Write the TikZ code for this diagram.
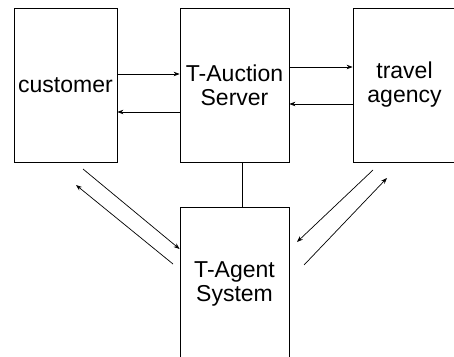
\documentclass[tikz,border=0pt]{standalone}
\usepackage{fontspec}
\setmainfont{Liberation Sans}
\usetikzlibrary{arrows.meta}
\begin{document}
\begin{tikzpicture}[x=1pt,y=-1pt,
  box/.style={draw, line width=0.8pt, minimum width=103pt, minimum height=154pt, inner sep=0pt, align=center, font=\fontsize{23}{24}\selectfont},
  conn/.style={line width=0.7pt, -{Stealth[length=6pt,width=4.5pt]}},
  link/.style={line width=0.7pt}]
\useasboundingbox (0,0) rectangle (454,356);
\clip (0,0) rectangle (454,356);
\node[box] (cust) at (65.5,85) {\raisebox{-2pt}{customer}};
\node[box, minimum width=109pt] (srv) at (234.5,85) {T-Auction\\Server};
\node[box] (trav) at (404.5,85) {travel\\agency};
\node[box, minimum width=109pt] (agent) at (234.5,284) {T-Agent\\System};
\draw[conn] (cust.east |- 0,74) -- (srv.west |- 0,74);
\draw[conn] (srv.west |- 0,112) -- (cust.east |- 0,112);
\draw[conn] (srv.east |- 0,67) -- (trav.west |- 0,67);
\draw[conn] (trav.west |- 0,104) -- (srv.east |- 0,104);
\draw[link] (srv.south -| 242,0) -- (agent.north -| 242,0);
\coordinate (l1) at (83,169);
\coordinate (l2) at (173,264);
\coordinate (l2e) at (76,185);
\coordinate (r1) at (373,170);
\coordinate (r1e) at (297,242);
\coordinate (r2) at (304,265);
\coordinate (r2e) at (387,178);
\draw[conn] (l1) -- (agent.west |- 0,249);
\draw[conn] (l2) -- (l2e);
\draw[conn] (r1) -- (r1e);
\draw[conn] (r2) -- (r2e);
\end{tikzpicture}
\end{document}
